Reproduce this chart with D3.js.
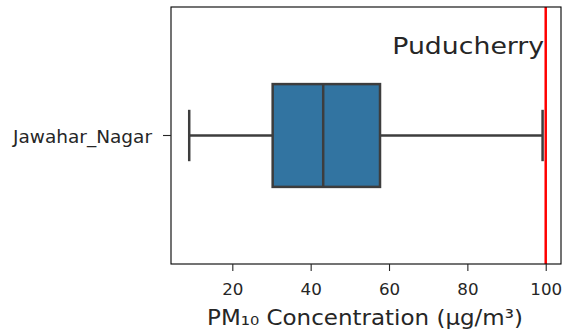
<!DOCTYPE html>
<html>
<head>
<meta charset="utf-8">
<script src="https://cdn.jsdelivr.net/npm/d3@7"></script>
<style>
  html, body { margin: 0; padding: 0; background: #fff; }
  svg { display: block; }
  text { font-family: "DejaVu Sans", sans-serif; fill: #262626; }
</style>
</head>
<body>
<svg id="chart" width="564" height="335"></svg>
<script>
// ---- data ----
const stations = ["Jawahar_Nagar"];
const whiskerLow = [9.0];
const q1 = [30.3];
const median = [43.2];
const q3 = [57.7];
const whiskerHigh = [99.2];
const xTicks = [20, 40, 60, 80, 100];
const limitValue = [100];
const title = "Puducherry";
const xLabel = "PM₁₀ Concentration (µg/m³)";

// ---- layout ----
const W = 564, H = 335;
const m = { left: 171, right: 3, top: 7, bottom: 71 };
const pw = W - m.left - m.right, ph = H - m.top - m.bottom;

const svg = d3.select("#chart");
const g = svg.append("g").attr("transform", `translate(${m.left},${m.top})`);

const x = d3.scaleLinear().domain([4.35, 103.9]).range([0, pw]);
const y = d3.scaleBand().domain(stations).range([0, ph]).padding(0);

const boxColor = "#3274a1";
const lineColor = "#3d3d3d";
const boxW = 0.4 * y.bandwidth();
const capW = 0.2 * y.bandwidth();

// horizontally stretch a text element to a target width about its anchor x
function fitWidth(sel, target) {
  sel.each(function () {
    const t = d3.select(this);
    const len = this.getComputedTextLength();
    const ax = +t.attr("x") || 0;
    const sx = target / len;
    const prev = t.attr("transform") || "";
    t.attr("transform", `${prev} translate(${ax},0) scale(${sx},1) translate(${-ax},0)`);
  });
}

const rows = stations.map((s, i) => ({
  s, lo: whiskerLow[i], q1: q1[i], med: median[i], q3: q3[i], hi: whiskerHigh[i]
}));

const bx = g.selectAll(".box").data(rows).enter().append("g").attr("class", "box");
const cy = d => y(d.s) + y.bandwidth() / 2;

// whiskers
bx.append("line").attr("x1", d => x(d.lo)).attr("x2", d => x(d.q1))
  .attr("y1", cy).attr("y2", cy).attr("stroke", lineColor).attr("stroke-width", 2.5);
bx.append("line").attr("x1", d => x(d.q3)).attr("x2", d => x(d.hi))
  .attr("y1", cy).attr("y2", cy).attr("stroke", lineColor).attr("stroke-width", 2.5);
// caps
bx.append("line").attr("x1", d => x(d.lo)).attr("x2", d => x(d.lo))
  .attr("y1", d => cy(d) - capW / 2).attr("y2", d => cy(d) + capW / 2)
  .attr("stroke", lineColor).attr("stroke-width", 2.5);
bx.append("line").attr("x1", d => x(d.hi)).attr("x2", d => x(d.hi))
  .attr("y1", d => cy(d) - capW / 2).attr("y2", d => cy(d) + capW / 2)
  .attr("stroke", lineColor).attr("stroke-width", 2.5);
// box
bx.append("rect").attr("x", d => x(d.q1)).attr("width", d => x(d.q3) - x(d.q1))
  .attr("y", d => cy(d) - boxW / 2).attr("height", boxW)
  .attr("fill", boxColor).attr("stroke", lineColor).attr("stroke-width", 2.5);
// median
bx.append("line").attr("x1", d => x(d.med)).attr("x2", d => x(d.med))
  .attr("y1", d => cy(d) - boxW / 2).attr("y2", d => cy(d) + boxW / 2)
  .attr("stroke", lineColor).attr("stroke-width", 2.5);

// limit line
g.selectAll(".limit").data(limitValue).enter().append("line")
  .attr("x1", d => x(d)).attr("x2", d => x(d)).attr("y1", 0).attr("y2", ph)
  .attr("stroke", "#ff0000").attr("stroke-width", 2.5);

// frame
g.append("rect").attr("x", 0).attr("y", 0).attr("width", pw).attr("height", ph)
  .attr("fill", "none").attr("stroke", "#000").attr("stroke-width", 1.1);

// axes
const xAxis = g.append("g").attr("transform", `translate(0,${ph})`)
  .call(d3.axisBottom(x).tickValues(xTicks).tickSize(7).tickPadding(12).tickFormat(d3.format("d")));
xAxis.select(".domain").remove();
xAxis.selectAll("line").attr("stroke", "#262626").attr("stroke-width", 1.1);
xAxis.selectAll("text").attr("font-size", "16.7px").attr("fill", "#262626")
  .style("font-family", "DejaVu Sans");

const yAxis = g.append("g").call(d3.axisLeft(y).tickSize(8).tickPadding(11));
yAxis.select(".domain").remove();
yAxis.selectAll("line").attr("stroke", "#262626").attr("stroke-width", 1.1);
const yTxt = yAxis.selectAll("text").attr("font-size", "17.3px").attr("fill", "#262626")
  .style("font-family", "DejaVu Sans").attr("dy", "0.45em");
fitWidth(yTxt, 139);

// title inside
const tt = g.append("text").attr("x", x(99.6)).attr("y", 47).attr("text-anchor", "end")
  .attr("font-size", "23.5px").text(title);
fitWidth(tt, 152);

// x label
const xl = svg.append("text").attr("x", 365).attr("y", 325).attr("text-anchor", "middle")
  .attr("font-size", "21.5px").text(xLabel);
fitWidth(xl, 316);
</script>
</body>
</html>
